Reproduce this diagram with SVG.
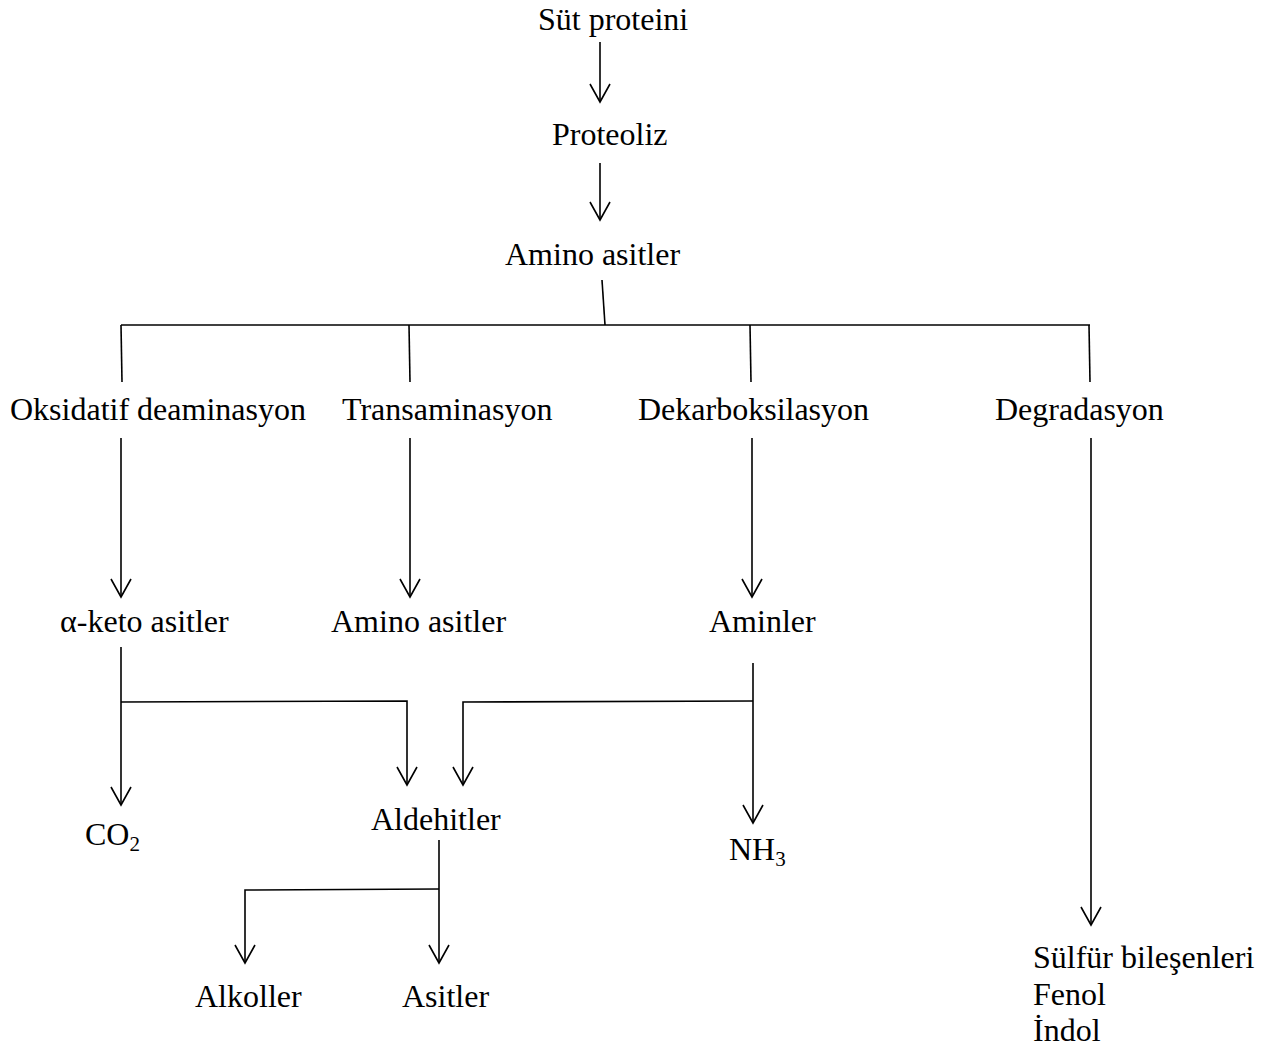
<svg xmlns="http://www.w3.org/2000/svg" width="1275" height="1047" viewBox="0 0 1275 1047">
<style>
text{font-family:"Liberation Serif","Times New Roman",serif;font-size:32px;fill:#000}
.c{fill:none;stroke:#000;stroke-width:1.6}
.sub{font-size:21px}
</style>
<defs>
<marker id="ah" markerUnits="userSpaceOnUse" markerWidth="22" markerHeight="24" refX="19" refY="11" orient="auto" viewBox="0 0 22 24">
<path d="M1,1 L19,11 L1,21" fill="none" stroke="#000" stroke-width="1.6"/>
</marker>
</defs>
<rect width="1275" height="1047" fill="#fff"/>
<g id="connectors">
<path class="c" d="M600,42 L600,102" marker-end="url(#ah)"/>
<path class="c" d="M600,163 L600,220" marker-end="url(#ah)"/>
<path class="c" d="M602,280 L605,325"/>
<path class="c" d="M121,325 L1090,325"/>
<path class="c" d="M121,325 L122,382"/>
<path class="c" d="M409,325 L410,382"/>
<path class="c" d="M750,325 L751,382"/>
<path class="c" d="M1089,325 L1090,382"/>
<path class="c" d="M121,438 L121,597" marker-end="url(#ah)"/>
<path class="c" d="M410,438 L410,597" marker-end="url(#ah)"/>
<path class="c" d="M752,438 L752,597" marker-end="url(#ah)"/>
<path class="c" d="M1091,438 L1091,925" marker-end="url(#ah)"/>
<path class="c" d="M121,647 L121,805" marker-end="url(#ah)"/>
<path class="c" d="M121,702 L407,701 L407,785" marker-end="url(#ah)"/>
<path class="c" d="M753,663 L753,823" marker-end="url(#ah)"/>
<path class="c" d="M753,701 L463,702 L463,785" marker-end="url(#ah)"/>
<path class="c" d="M439,840 L439,963" marker-end="url(#ah)"/>
<path class="c" d="M439,889 L245,890 L245,963" marker-end="url(#ah)"/>
</g>
<g id="n-sut"><text x="538" y="30">Süt proteini</text></g>
<g id="n-proteoliz"><text x="552" y="145">Proteoliz</text></g>
<g id="n-amino1"><text x="505" y="265">Amino asitler</text></g>
<g id="n-oksidatif"><text x="10" y="420">Oksidatif deaminasyon</text></g>
<g id="n-trans"><text x="342" y="420">Transaminasyon</text></g>
<g id="n-dekarb"><text x="638" y="420">Dekarboksilasyon</text></g>
<g id="n-degrad"><text x="995" y="420">Degradasyon</text></g>
<g id="n-keto"><text x="60" y="632">α-keto asitler</text></g>
<g id="n-amino2"><text x="331" y="632">Amino asitler</text></g>
<g id="n-aminler"><text x="709" y="632">Aminler</text></g>
<g id="n-co2"><text x="85" y="845">CO<tspan class="sub" dy="6">2</tspan></text></g>
<g id="n-aldehit"><text x="371" y="830">Aldehitler</text></g>
<g id="n-nh3"><text x="729" y="860">NH<tspan class="sub" dy="6">3</tspan></text></g>
<g id="n-alkol"><text x="195" y="1007">Alkoller</text></g>
<g id="n-asit"><text x="402" y="1007">Asitler</text></g>
<g id="n-sulfur"><text x="1033" y="968">Sülfür bileşenleri</text><text x="1033" y="1005">Fenol</text><text x="1033" y="1041">İndol</text></g>
</svg>
